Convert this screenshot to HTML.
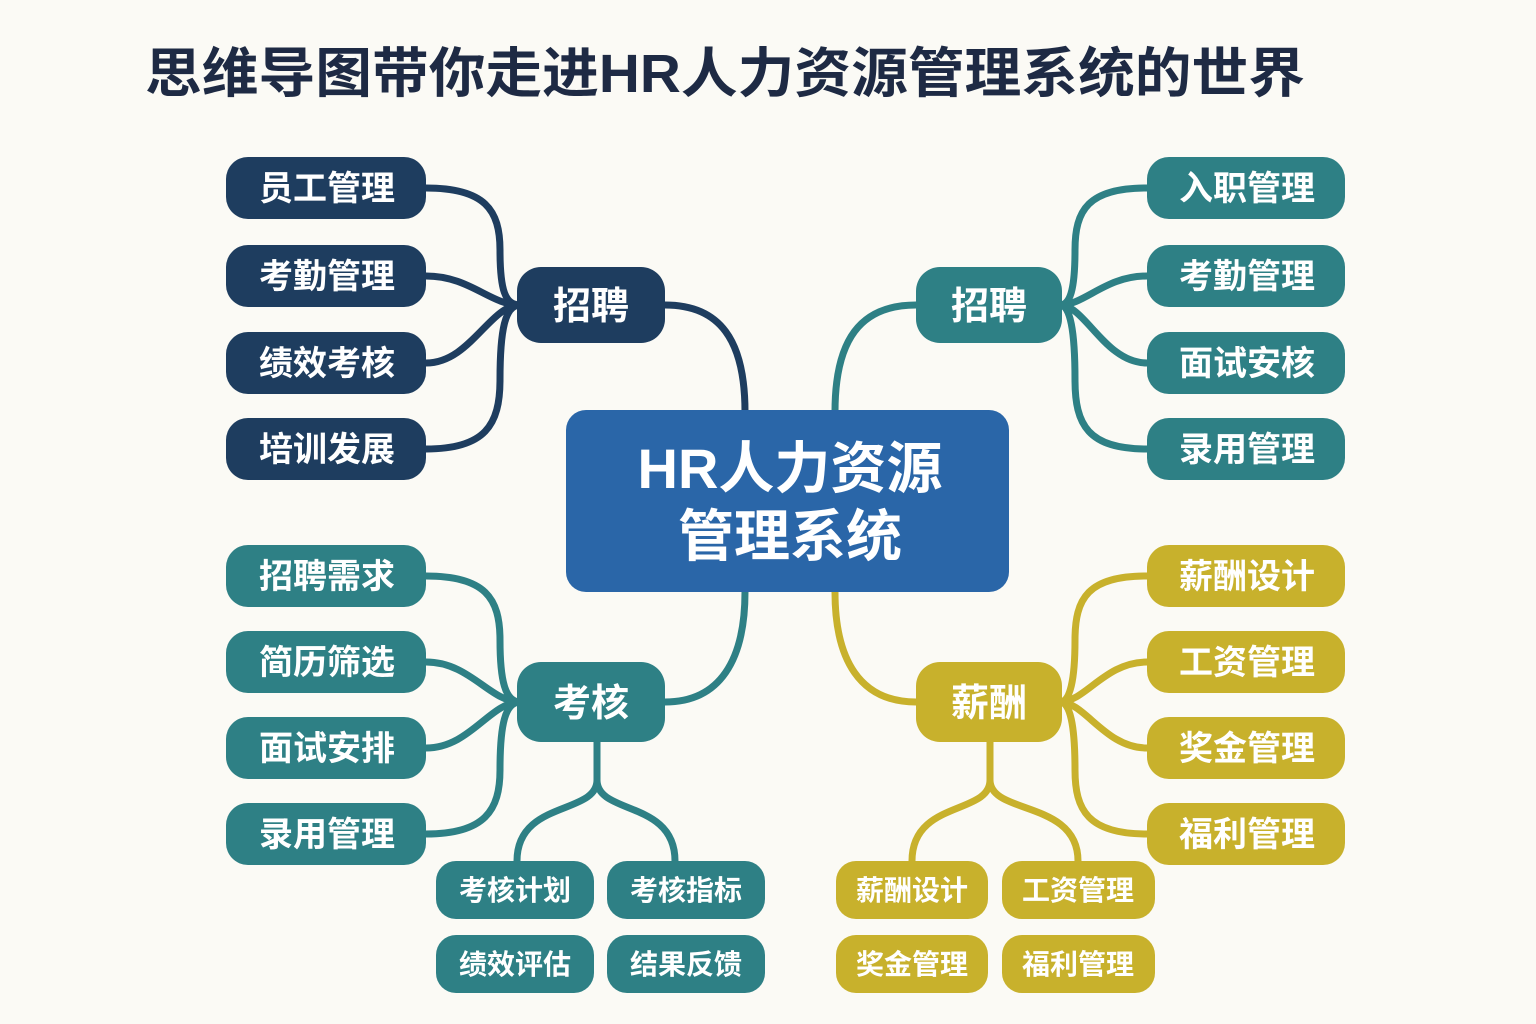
<!DOCTYPE html>
<html><head><meta charset="utf-8"><style>
html,body{margin:0;padding:0;background:#fbfaf5;}
svg{display:block}
text{font-family:"Liberation Sans","Noto Sans CJK SC",sans-serif;font-weight:bold;}
</style></head><body>
<svg width="1536" height="1024" viewBox="0 0 1536 1024">
<rect width="1536" height="1024" fill="#fbfaf5"/>
<text x="145" y="92" font-size="54" fill="#1e2a44" textLength="1160" lengthAdjust="spacingAndGlyphs">思维导图带你走进HR人力资源管理系统的世界</text>
<g fill="none" stroke-width="7" stroke-linecap="round">
<g stroke="#1e3d5f">
<path d="M426 188 C485 188 500 210 500 250 C500 290 505 305 520 305"/>
<path d="M426 276 C470 276 490 305 520 305"/>
<path d="M426 363 C470 363 490 305 520 305"/>
<path d="M426 449 C485 449 500 425 500 380 C500 330 505 305 520 305"/>
<path d="M665 305 C720 305 745 340 745 412"/>
</g>
<g stroke="#2e8085">
<path d="M1147 188 C1088 188 1075 210 1075 250 C1075 290 1070 305 1060 305"/>
<path d="M1147 276 C1105 276 1085 305 1060 305"/>
<path d="M1147 363 C1105 363 1085 305 1060 305"/>
<path d="M1147 449 C1088 449 1075 425 1075 380 C1075 330 1070 305 1060 305"/>
<path d="M916 305 C860 305 835 340 835 412"/>
<path d="M426 576 C485 576 500 598 500 640 C500 680 505 702 520 702"/>
<path d="M426 662 C470 662 490 702 520 702"/>
<path d="M426 748 C470 748 490 702 520 702"/>
<path d="M426 834 C485 834 500 810 500 770 C500 725 505 702 520 702"/>
<path d="M665 702 C720 702 745 660 745 592"/>
<path d="M597 742 L597 780 C597 815 517 800 517 861"/>
<path d="M597 780 C597 815 675 800 675 861"/>
</g>
<g stroke="#c8b12c">
<path d="M1147 576 C1088 576 1075 598 1075 640 C1075 680 1070 702 1060 702"/>
<path d="M1147 662 C1105 662 1085 702 1060 702"/>
<path d="M1147 748 C1105 748 1085 702 1060 702"/>
<path d="M1147 834 C1088 834 1075 810 1075 770 C1075 725 1070 702 1060 702"/>
<path d="M916 702 C860 702 835 660 835 592"/>
<path d="M990 742 L990 780 C990 815 912 800 912 861"/>
<path d="M990 780 C990 815 1078 800 1078 861"/>
</g>
</g>
<rect x="566" y="410" width="443" height="182" rx="20" fill="#2a66a8"/>
<text x="790" y="488" font-size="56" fill="#fff" text-anchor="middle">HR人力资源</text>
<text x="790" y="556" font-size="56" fill="#fff" text-anchor="middle">管理系统</text>
<g font-size="38" text-anchor="middle" fill="#fff">
<rect x="517" y="267" width="148" height="76" rx="24" fill="#1e3d5f"/><text x="591" y="319">招聘</text>
<rect x="916" y="267" width="146" height="76" rx="24" fill="#2e8085"/><text x="989" y="319">招聘</text>
<rect x="517" y="662" width="148" height="80" rx="24" fill="#2e8085"/><text x="591" y="716">考核</text>
<rect x="916" y="662" width="146" height="80" rx="24" fill="#c8b12c"/><text x="989" y="716">薪酬</text>
</g>
<g font-size="34" text-anchor="middle" fill="#fff">
<g fill="#1e3d5f">
<rect x="226" y="157" width="200" height="62" rx="22"/><rect x="226" y="245" width="200" height="62" rx="22"/>
<rect x="226" y="332" width="200" height="62" rx="22"/><rect x="226" y="418" width="200" height="62" rx="22"/>
</g>
<text x="327" y="200">员工管理</text><text x="327" y="288">考勤管理</text><text x="327" y="375">绩效考核</text><text x="327" y="461">培训发展</text>
<g fill="#2e8085">
<rect x="1147" y="157" width="198" height="62" rx="22"/><rect x="1147" y="245" width="198" height="62" rx="22"/>
<rect x="1147" y="332" width="198" height="62" rx="22"/><rect x="1147" y="418" width="198" height="62" rx="22"/>
<rect x="226" y="545" width="200" height="62" rx="22"/><rect x="226" y="631" width="200" height="62" rx="22"/>
<rect x="226" y="717" width="200" height="62" rx="22"/><rect x="226" y="803" width="200" height="62" rx="22"/>
<rect x="436" y="861" width="158" height="58" rx="20"/><rect x="607" y="861" width="158" height="58" rx="20"/>
<rect x="436" y="935" width="158" height="58" rx="20"/><rect x="607" y="935" width="158" height="58" rx="20"/>
</g>
<text x="1247" y="200">入职管理</text><text x="1247" y="288">考勤管理</text><text x="1247" y="375">面试安核</text><text x="1247" y="461">录用管理</text>
<text x="327" y="588">招聘需求</text><text x="327" y="674">简历筛选</text><text x="327" y="760">面试安排</text><text x="327" y="846">录用管理</text>
<g fill="#c8b12c">
<rect x="1147" y="545" width="198" height="62" rx="22"/><rect x="1147" y="631" width="198" height="62" rx="22"/>
<rect x="1147" y="717" width="198" height="62" rx="22"/><rect x="1147" y="803" width="198" height="62" rx="22"/>
<rect x="836" y="861" width="152" height="58" rx="20"/><rect x="1002" y="861" width="153" height="58" rx="20"/>
<rect x="836" y="935" width="152" height="58" rx="20"/><rect x="1002" y="935" width="153" height="58" rx="20"/>
</g>
<text x="1247" y="588">薪酬设计</text><text x="1247" y="674">工资管理</text><text x="1247" y="760">奖金管理</text><text x="1247" y="846">福利管理</text>
</g>
<g font-size="28" text-anchor="middle" fill="#fff">
<text x="515" y="900">考核计划</text><text x="686" y="900">考核指标</text>
<text x="515" y="974">绩效评估</text><text x="686" y="974">结果反馈</text>
<text x="912" y="900">薪酬设计</text><text x="1078" y="900">工资管理</text>
<text x="912" y="974">奖金管理</text><text x="1078" y="974">福利管理</text>
</g>
</svg>
</body></html>
